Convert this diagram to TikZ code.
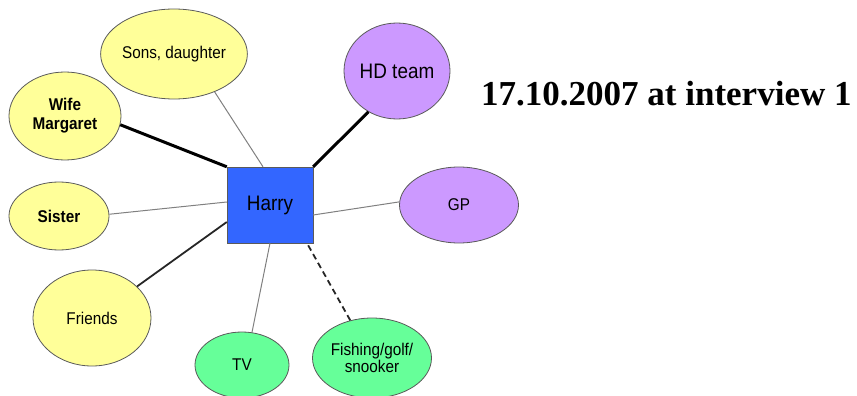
\documentclass[tikz,border=0pt]{standalone}
\usepackage{fontspec}
\setmainfont[FakeStretch=0.9]{Liberation Sans}
\newfontfamily\titlefont{Liberation Serif}
\usetikzlibrary{shapes.geometric,calc}
\definecolor{famyellow}{HTML}{FFFF99}
\definecolor{servpurple}{HTML}{CC99FF}
\definecolor{actgreen}{HTML}{66FF99}
\definecolor{selfblue}{HTML}{3366FF}
\definecolor{rimgray}{HTML}{5A5A5A}
\begin{document}
\begin{tikzpicture}[x=1pt,y=-1pt,
  bubble/.style={ellipse,draw=rimgray,line width=0.8pt,inner sep=0pt,align=center,
    font=\fontsize{17}{18}\selectfont},
  fam/.style={bubble,fill=famyellow},
  serv/.style={bubble,fill=servpurple},
  act/.style={bubble,fill=actgreen},
  strong/.style={line width=3pt,black},
  medium/.style={line width=1.8pt,black!85},
  weak/.style={line width=1pt,gray},
  uncertain/.style={line width=1.8pt,black!85,dash pattern=on 6pt off 4pt}]
\useasboundingbox (0,0) rectangle (857,396);

% central person
\node[draw=rimgray,fill=selfblue,minimum width=86pt,minimum height=76pt,inner sep=0pt,
  font=\fontsize{21}{22}\selectfont] (harry) at (270,205) {Harry};

% family and friends
\node[fam,minimum width=118pt,minimum height=90pt] (sons) at (174,54) {Sons, daughter};
\node[fam,minimum width=112pt,minimum height=88pt,font=\fontsize{17}{19}\selectfont\bfseries] (wife) at (65,116) {Wife\\Margaret};
\node[fam,minimum width=100pt,minimum height=68pt,font=\fontsize{17}{18}\selectfont\bfseries] (sister) at (59,216) {Sister};
\node[fam,minimum width=118pt,minimum height=96pt] (friends) at (92,318) {Friends};

% services
\node[serv,minimum width=106pt,minimum height=96pt,font=\fontsize{21}{22}\selectfont] (hd) at (397,71) {HD team};
\node[serv,minimum width=119pt,minimum height=76pt] (gp) at (459,205) {GP};

% activities
\node[act,minimum width=94pt,minimum height=66pt] (tv) at (242,365) {TV};
\node[act,minimum width=119pt,minimum height=80pt,font=\fontsize{17}{17.5}\selectfont] (fish) at (372,358) {Fishing/golf/\\snooker};

% title
\node[anchor=base west,inner sep=0pt,font=\titlefont\fontsize{35}{40}\selectfont\bfseries] (title) at (481,106) {17.10.2007 at interview 1};

% ties
\draw[weak] (sons.-43) -- ($(harry.north)+(-7,0)$);
\draw[strong] (wife.-9) -- (harry.north west);
\draw[strong] (hd.235) -- (harry.north east);
\draw[weak] (sister.2) -- ($(harry.west)+(0,-3)$);
\draw[medium] (friends.35) -- ($(harry.west)+(0,17)$);
\draw[weak] (tv.73) -- (harry.south);
\draw[uncertain] (fish.120) -- ($(harry.south)+(37,0)$);
\draw[weak] (gp.177) -- ($(harry.east)+(0,10)$);
\end{tikzpicture}
\end{document}
